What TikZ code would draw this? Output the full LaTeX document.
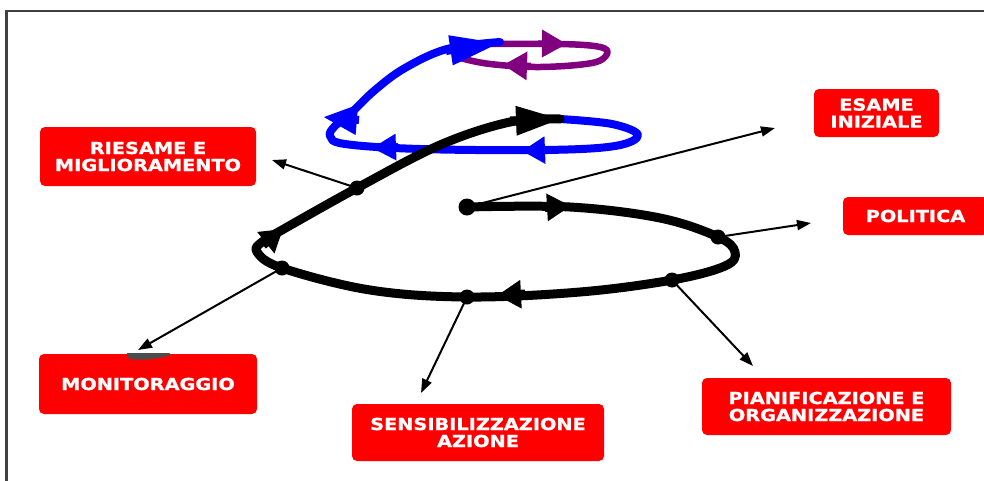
\documentclass[tikz,border=0pt]{standalone}
\usepackage{fontspec}
\newfontfamily\boxfont{DejaVu Sans}[FakeStretch=1.17,FakeBold=1.2]
\usepackage{xcolor}
\usetikzlibrary{arrows.meta}
\definecolor{loopviolet}{RGB}{128,0,128}

\begin{document}
\begin{tikzpicture}[x=1pt,y=-1pt,
    stepbox/.style={rectangle, rounded corners=5pt, fill=red, text=white, align=center, inner sep=0pt,
      font=\boxfont\bfseries\fontsize{16.5}{17}\selectfont},
    spiral/.style={line width=9pt, line cap=round, line join=round},
    pointer/.style={line width=2pt, -{Triangle[length=14pt,width=10pt]}}
  ]
    \useasboundingbox (0,0) rectangle (984,480);
    % Frame
    \draw[line width=2.5pt, black!75] (6.7,482) -- (6.7,10.8) -- (986,10.8);

    % Boxes
    \node[stepbox, minimum width=216pt, minimum height=59pt] (riesame) at (148,156.5) {RIESAME E\\MIGLIORAMENTO};
    \node[stepbox, minimum width=125pt, minimum height=48pt] (esame) at (876.5,113) {ESAME\\INIZIALE};
    \node[stepbox, minimum width=145pt, minimum height=38pt] (politica) at (915.5,216) {POLITICA};
    \node[stepbox, minimum width=218pt, minimum height=60pt] (monitoraggio) at (148,384) {MONITORAGGIO};
    \node[stepbox, minimum width=252pt, minimum height=57pt] (sensib) at (478,432.5) {SENSIBILIZZAZIONE\\AZIONE};
    \node[stepbox, minimum width=249pt, minimum height=57pt] (pianif) at (826.5,406.5) {PIANIFICAZIONE E\\ORGANIZZAZIONE};
    \fill[black!70] (127,353) -- (170,353) -- (168,356) .. controls (150,360) and (136,361) .. (128,358) -- cycle;

    % Violet loop
    \draw[spiral, line width=6.5pt, loopviolet] plot[smooth, tension=0.6] coordinates
      {(470,44) (560,44) (600,47) (607,54) (592,63) (540,67) (490,64) (460,58)};
    \draw[line width=6.5pt, loopviolet, -{Triangle[length=25pt,width=26pt]}] (538,43.5) -- (567,44);
    \draw[line width=6.5pt, loopviolet, -{Triangle[length=24pt,width=27pt]}] (531,66) -- (503,65);

    % Blue loop
    \draw[spiral, line width=8pt, blue] plot[smooth, tension=0.6] coordinates
      {(560,119) (612,124) (638,135) (615,146) (545,150) (420,149) (345,144) (330,136) (335,126)
       (350,114) (375,90) (405,68) (447,49) (500,42)};
    \draw[line width=8pt, blue, -{Triangle[length=23pt,width=26pt]}] (548,150) -- (522,151);
    \draw[line width=8pt, blue, -{Triangle[length=24pt,width=25pt]}] (398,147) -- (372,148);
    \draw[line width=8pt, blue, -{Triangle[length=34pt,width=28pt]}] (359,120) -- (323,117);
    \draw[line width=8pt, blue, -{Triangle[length=50pt,width=28pt]}] (446,51) -- (500,43);

    % Black spiral
    \draw[spiral] plot[smooth, tension=0.6] coordinates
      {(467,207) (570,207) (660,218) (718,237) (735,252) (725,266) (672,280) (580,292) (467,297)
       (370,290) (282,268) (257,252) (262,242) (282,230) (357,188) (440,145) (510,122) (560,119)};
    \draw[line width=9pt, -{Triangle[length=24pt,width=26pt]}] (545,207.5) -- (571,206);
    \draw[line width=9pt, -{Triangle[length=24pt,width=27pt]}] (525,294) -- (497,295.5);
    \draw[line width=9pt, -{Triangle[length=22pt,width=26pt]}] (263,245) -- (283,229);
    \draw[line width=9pt, -{Triangle[length=46pt,width=27pt]}] (510,121) -- (562,119);

    % Dots on the spiral
    \coordinate (start) at (467,207);
    \coordinate (dpol) at (718,237);
    \coordinate (dpia) at (672,280);
    \coordinate (dsen) at (467,297);
    \coordinate (dmon) at (282,268);
    \coordinate (drie) at (357,188);
    \fill (start) circle (8.5pt);
    \foreach \d in {dpol,dpia,dsen,dmon,drie} \fill (\d) circle (7.5pt);

    % Pointers
    \coordinate (tesa) at (775,128);
    \coordinate (tpol) at (811,223);
    \coordinate (tpia) at (753,366);
    \coordinate (tsen) at (421,393);
    \coordinate (tmon) at (138,350);
    \coordinate (trie) at (272,160);
    \draw[pointer] (start) -- (tesa);
    \draw[pointer] (dpol) -- (tpol);
    \draw[pointer] (dpia) -- (tpia);
    \draw[pointer] (dsen) -- (tsen);
    \draw[pointer] (dmon) -- (tmon);
    \draw[pointer] (drie) -- (trie);
\end{tikzpicture}
\end{document}
